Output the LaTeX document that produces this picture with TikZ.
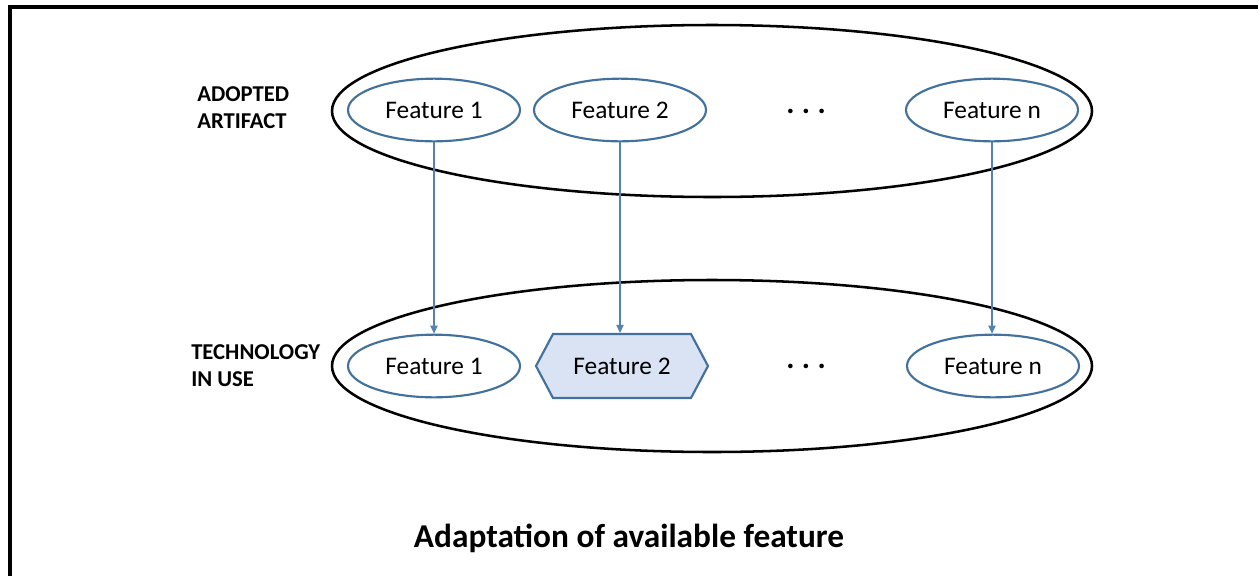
\documentclass[tikz,border=0pt]{standalone}
\usepackage{fontspec}
\setmainfont{Carlito}
\usetikzlibrary{shapes.geometric,shapes.symbols,arrows.meta}
\definecolor{featblue}{RGB}{65,113,156}
\definecolor{arrowblue}{RGB}{84,130,180}
\definecolor{hexfill}{RGB}{218,227,243}
\begin{document}
\begin{tikzpicture}[x=0.75pt,y=-0.75pt,
  feat/.style={ellipse, draw=featblue, line width=1.6pt, minimum width=129pt, minimum height=47pt, inner sep=0pt, font=\fontsize{19}{22}\selectfont},
  outerell/.style={ellipse, draw=black, line width=1.9pt, minimum width=570pt, minimum height=129pt, inner sep=0pt},
  hexa/.style={signal, signal to=east and west, signal pointer angle=124, draw=featblue, fill=hexfill, line width=1.6pt, minimum width=129pt, minimum height=48pt, inner sep=0pt, font=\fontsize{19}{22}\selectfont},
  lab/.style={font=\bfseries\fontsize{17}{20.25}\selectfont, align=left, inner sep=0pt, anchor=west},
  link/.style={draw=arrowblue, line width=0.9pt, -{Triangle[length=6pt,width=5.5pt]}},
  dotsnode/.style={font=\bfseries\fontsize{23}{26}\selectfont, inner sep=0pt}
]
\useasboundingbox (0,0) rectangle (1258,576);
\draw[line width=2.5pt] (10,576) -- (10,7) -- (1258,7);

\node[outerell] (topO) at (712,111) {};
\node[outerell] (botO) at (712,366) {};

\node[feat] (a1) at (434,110) {Feature 1};
\node[feat] (a2) at (620,110) {Feature 2};
\node[feat] (an) at (992,110) {Feature n};
\node[dotsnode] (ad) at (806,111) {.\hspace{5.6pt}.\hspace{5.6pt}.};

\node[feat] (b1) at (434,366) {Feature 1};
\node[hexa] (b2) at (622,366) {Feature 2};
\node[feat] (bn) at (993,366) {Feature n};
\node[dotsnode] (bd) at (806,366) {.\hspace{5.6pt}.\hspace{5.6pt}.};

\node[lab] (la) at (197,108) {ADOPTED\\ARTIFACT};
\node[lab] (lb) at (191,366) {TECHNOLOGY\\IN USE};

\node[font=\bfseries\fontsize{25}{30}\selectfont, anchor=base, inner sep=0pt] (title) at (629,547) {Adaptation of available feature};

\draw[link] (a1.south) -- (b1.north);
\draw[link] (a2.south) -- (a2.south |- b2.north);
\draw[link] (an.south) -- (an.south |- bn.north);
\end{tikzpicture}
\end{document}
